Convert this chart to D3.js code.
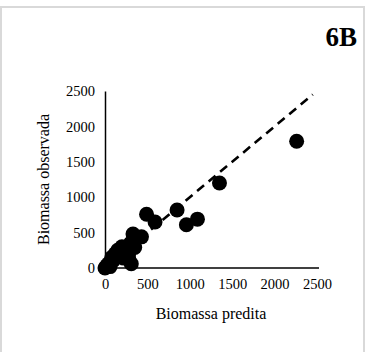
<!DOCTYPE html>
<html><head><meta charset="utf-8">
<script src="https://cdn.jsdelivr.net/npm/d3@7"></script>
<style>body{margin:0;background:#fff}svg{display:block}</style>
</head><body>
<script>
const predicted = [0, 20, 40, 60, 80, 100, 120, 150, 180, 200, 220, 250, 280, 300, 330, 350, 380, 430, 310, 280, 490, 590, 850, 960, 1090, 1350, 2260];
const observed  = [0, 30, 60, 20, 150, 110, 200, 250, 180, 300, 140, 260, 200, 350, 480, 290, 420, 440, 60, 120, 760, 650, 820, 610, 690, 1200, 1790];
const xTicks = [0, 500, 1000, 1500, 2000, 2500];
const yTicks = [0, 500, 1000, 1500, 2000, 2500];
const refLine = [0, 2450];
const xTitle = "Biomassa predita";
const yTitle = "Biomassa observada";
const panelLabel = "6B";

const W = 366, H = 352;
const svg = d3.select("body").append("svg").attr("width", W).attr("height", H);
svg.append("rect").attr("x", 1).attr("y", 7).attr("width", 363).attr("height", 350)
  .attr("fill", "#fff").attr("stroke", "#d9d9d9").attr("stroke-width", 2);

const x = d3.scaleLinear().domain([0, 2500]).range([105, 317]);
const y = d3.scaleLinear().domain([0, 2500]).range([268, 91]);
const font = "'Liberation Serif', 'Times New Roman', serif";
const tickSize = 14.5, titleSize = 16;

// axes (lines only, no ticks)
const xAxis = svg.append("g").attr("transform", `translate(0,${y(0)})`)
  .call(d3.axisBottom(x).tickValues(xTicks).tickSize(0).tickPadding(11).tickFormat(d3.format("d")));
xAxis.select(".domain").attr("stroke", "#000").attr("stroke-width", 1.5).attr("d", `M${x(0)},0H${x(2500)+2}`);
xAxis.selectAll("text").attr("font-family", font).attr("font-size", tickSize).attr("fill", "#000");

const yAxis = svg.append("g").attr("transform", `translate(${x(0)},0)`)
  .call(d3.axisLeft(y).tickValues(yTicks).tickSize(0).tickPadding(10).tickFormat(d3.format("d")));
yAxis.select(".domain").attr("stroke", "#000").attr("stroke-width", 1.5);
yAxis.selectAll("text").attr("font-family", font).attr("font-size", tickSize).attr("fill", "#000");
svg.selectAll(".tick line").remove();

// 1:1 dashed line
svg.append("line")
  .attr("x1", x(refLine[0])).attr("y1", y(refLine[0]))
  .attr("x2", x(refLine[1])).attr("y2", y(refLine[1]))
  .attr("stroke", "#000").attr("stroke-width", 2.6).attr("stroke-dasharray", "9,6");

// points
svg.append("g").selectAll("circle").data(predicted.map((p, i) => [p, observed[i]]))
  .join("circle").attr("cx", d => x(d[0])).attr("cy", d => y(d[1])).attr("r", 7.5).attr("fill", "#000");

// titles
svg.append("text").attr("x", (x(0) + x(2500)) / 2).attr("y", 319).attr("text-anchor", "middle")
  .attr("font-family", font).attr("font-size", titleSize).text(xTitle);
svg.append("text").attr("transform", `translate(49,${(y(0) + y(2500)) / 2}) rotate(-90)`)
  .attr("text-anchor", "middle").attr("font-family", font).attr("font-size", titleSize).text(yTitle);
svg.append("text").attr("x", 357).attr("y", 46).attr("text-anchor", "end")
  .attr("font-family", font).attr("font-size", 27).attr("font-weight", "bold").text(panelLabel);
</script>
</body></html>
